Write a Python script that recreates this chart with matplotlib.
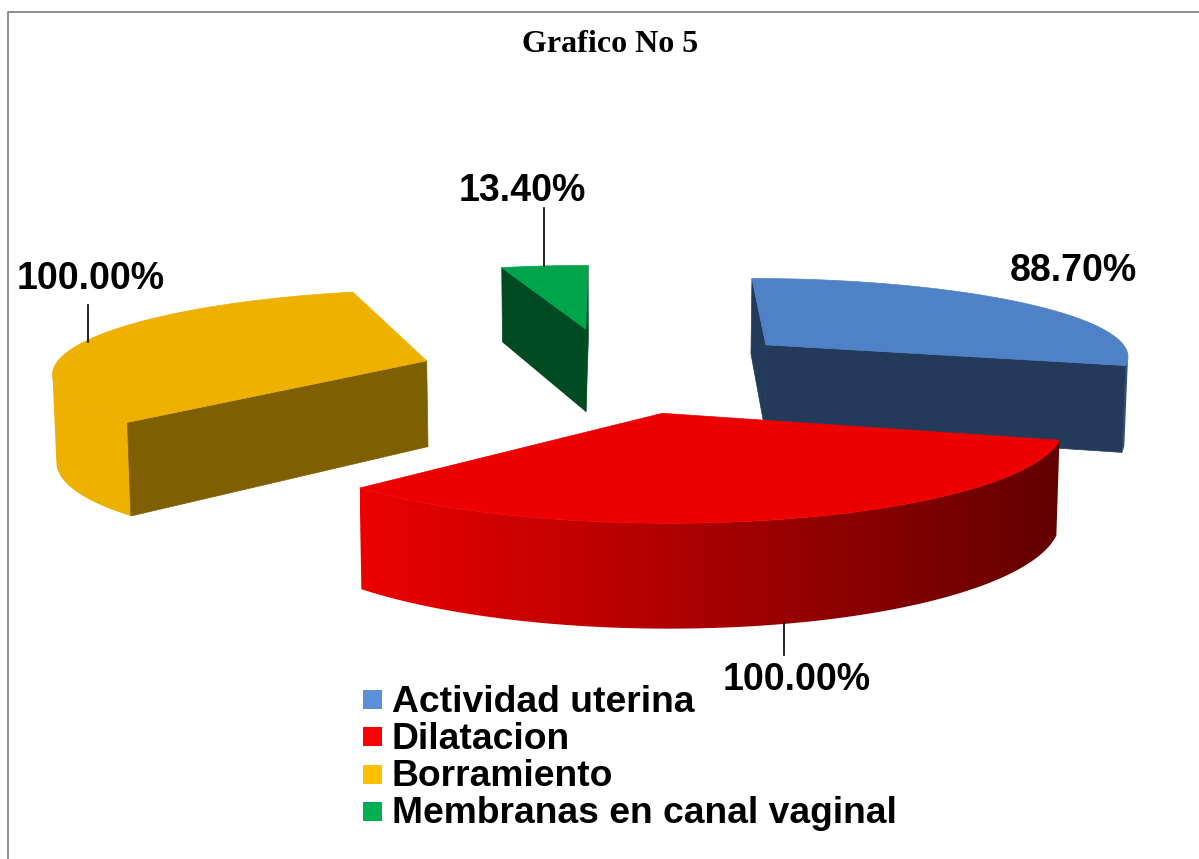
import numpy as np
import matplotlib
matplotlib.use("Agg")
import matplotlib.pyplot as plt
from matplotlib.patches import Polygon, Rectangle
from matplotlib.colors import LinearSegmentedColormap

# ---- data ----
categories = ["Actividad uterina", "Dilatacion", "Borramiento", "Membranas en canal vaginal"]
values = [88.70, 100.00, 100.00, 13.40]
value_labels = ["88.70%", "100.00%", "100.00%", "13.40%"]
title = "Grafico No 5"

# ---- style ----
top_colors = ["#4F81C6", "#EC0000", "#EEB100", "#00A44A"]
face_colors = ["#243A5A", "#7A0000", "#7F6000", "#004A22"]
wall_left = ["#2F5080", "#EC0000", "#EEB100", "#00A44A"]
wall_right = ["#2F5080", "#620000", "#EEB100", "#00A44A"]
legend_colors = ["#5B8FD6", "#FF0000", "#FFC000", "#00B050"]
nudges = [(15, -2), (0, 0), (-20, 0), (-6, -3)]
squash_x = [0.986, 1.0, 0.997, 0.98]
squash_y = [0.90, 0.975, 0.93, 0.90]
draw_order = [0, 3, 2, 1]

W, H_PX = 1199, 859
VX, VY = 615.0, 371.0
FX, GY, P = 375.0, 88.0, 0.12
EXPLODE, THICK, CONVERGE = 0.47, 87.0, 0.007
START = 0.0

fig = plt.figure(figsize=(W / 100, H_PX / 100), dpi=100)
ax = fig.add_axes([0, 0, 1, 1])
ax.axis("off")


def project(x, y):
    d = 1 + P * y
    return VX + FX * x / d, VY - GY * y / d, d


def area(pts):
    p = np.array(pts)
    q = np.roll(p, -1, axis=0)
    return 0.5 * np.sum(p[:, 0] * q[:, 1] - q[:, 0] * p[:, 1])


total = sum(values)
angle = START
sweeps = []
for v in values:
    sweeps.append((angle, angle + 360.0 * v / total))
    angle += 360.0 * v / total

for rank, i in enumerate(draw_order):
    z = 10 * (rank + 1)
    a1, a2 = sweeps[i]
    mid = np.radians((a1 + a2) / 2)
    cx, cy = EXPLODE * np.sin(mid), EXPLODE * np.cos(mid)
    ax0, ay0, _ = project(cx, cy)
    nd = nudges[i]

    def pts(x, y):
        sx, sy, d = project(x, y)
        sx = ax0 + (sx - ax0) * squash_x[i] + nd[0]
        sy = ay0 + (sy - ay0) * squash_y[i] + nd[1]
        bx = VX + (sx - VX) * (1 - CONVERGE)
        return (sx, sy), (bx, sy + THICK / d)

    thetas = np.radians(np.linspace(a1, a2, 200))
    tb = [pts(cx + np.sin(t), cy + np.cos(t)) for t in thetas]
    tops = [t for t, _ in tb]
    bots = [b for _, b in tb]
    apex_t, apex_b = pts(cx, cy)

    # outer wall: visible strips only, filled by a clipped horizontal gradient
    vis = [k for k in range(len(tb) - 1)
           if area([tops[k], tops[k + 1], bots[k + 1], bots[k]]) < 0]
    if vis:
        k0, k1 = vis[0], vis[-1] + 1
        outline = tops[k0:k1 + 1] + bots[k0:k1 + 1][::-1]
        poly = Polygon(outline, closed=True, facecolor="none", edgecolor="none", zorder=z)
        ax.add_patch(poly)
        xs = [p[0] for p in outline]
        ysw = [p[1] for p in outline]
        cmap = LinearSegmentedColormap.from_list("w", [wall_left[i], wall_right[i]])
        im = ax.imshow(np.linspace(0, 1, 256)[None, :], cmap=cmap, aspect="auto",
                       extent=(min(xs), max(xs), max(ysw), min(ysw)), zorder=z,
                       interpolation="bilinear")
        im.set_clip_path(poly)
    # cut faces
    f_start = [apex_t, tops[0], bots[0], apex_b]
    f_end = [apex_t, tops[-1], bots[-1], apex_b]
    if area(f_start) < 0:
        ax.add_patch(Polygon(f_start, closed=True, facecolor=face_colors[i],
                             edgecolor=face_colors[i], lw=0.5, zorder=z + 1))
    if area(f_end) > 0:
        ax.add_patch(Polygon(f_end, closed=True, facecolor=face_colors[i],
                             edgecolor=face_colors[i], lw=0.5, zorder=z + 1))
    # top
    ax.add_patch(Polygon([apex_t] + tops, closed=True, facecolor=top_colors[i],
                         edgecolor=top_colors[i], lw=0.5, zorder=z + 2))

ax.set_xlim(0, W)
ax.set_ylim(H_PX, 0)

# frame
ax.plot([8, 8, W], [H_PX, 12, 12], color="#868686", lw=1.3, zorder=60)

# title
ax.text(610, 52, title, family="Liberation Serif", weight="bold", fontsize=23,
        ha="center", va="baseline", color="black", zorder=61)

# data labels and leader lines
label_pos = [(1073, 281), (797, 690), (91, 289), (522, 201)]
leaders = [None, ((784, 784), (622, 655)), ((88, 88), (305, 342)), ((544, 544), (208, 266))]
for txt, pos, ld in zip(value_labels, label_pos, leaders):
    ax.text(pos[0], pos[1], txt, family="Liberation Sans", weight="bold", fontsize=27,
            ha="center", va="baseline", color="black", zorder=61)
    if ld:
        ax.plot(ld[0], ld[1], color="black", lw=1.2, zorder=61)

# legend
for k, (name, col) in enumerate(zip(categories, legend_colors)):
    ax.add_patch(Rectangle((363, 690 + k * 37.3), 19, 19, facecolor=col, edgecolor="none", zorder=61))
    ax.text(392, 712 + k * 37, name, family="Liberation Sans", weight="bold", fontsize=26.8,
            ha="left", va="baseline", color="black", zorder=61)

fig.savefig("out.png", dpi=100)
